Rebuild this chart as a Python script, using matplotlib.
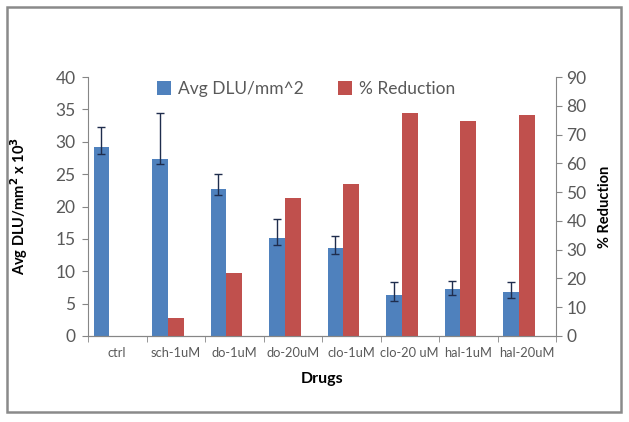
import numpy as np
import matplotlib
matplotlib.use("Agg")
from matplotlib import pyplot as plt
from matplotlib.patches import Rectangle

plt.rcParams['font.family'] = ['Lato', 'DejaVu Sans']

drugs = ["ctrl", "sch-1uM", "do-1uM", "do-20uM", "clo-1uM", "clo-20 uM", "hal-1uM", "hal-20uM"]
avg_dlu = [29.2, 27.3, 22.7, 15.1, 13.6, 6.4, 7.3, 6.8]
err_up = [3.1, 7.1, 2.3, 3.0, 1.8, 2.0, 1.2, 1.6]
err_low = [1.1, 0.8, 1.0, 1.0, 1.0, 1.0, 1.0, 1.0]
reduction = [0, 6.2, 21.8, 48.0, 52.7, 77.6, 74.8, 76.8]

blue = "#4F81BD"
red = "#C0504D"
grey = "#868686"
txt = "#595959"

fig = plt.figure(figsize=(6.29, 4.22), dpi=100)
fig.patches.append(Rectangle((7/629, 1-412/422), 614/629, 405/422, transform=fig.transFigure,
                             fill=False, edgecolor="#8a8a8a", linewidth=1.8))

ax = fig.add_axes([88/629, 1-336/422, 468/629, 259/422])
ax2 = ax.twinx()

x = np.arange(len(drugs))
w = 0.27
b1 = ax.bar(x - w, avg_dlu, w, color=blue, label="Avg DLU/mm^2", zorder=2)
ax.errorbar(x - w, avg_dlu, yerr=[err_low, err_up], fmt="none", ecolor="#1f2d4d",
            elinewidth=1.0, capsize=3, capthick=1.0, zorder=3)
b2 = ax2.bar(x, reduction, w, color=red, label="% Reduction", zorder=2)

ax.set_xlim(-0.5, len(drugs) - 0.5)
ax.set_ylim(0, 40)
ax2.set_ylim(0, 90)
ax.set_yticks(range(0, 41, 5))
ax2.set_yticks(range(0, 91, 10))

ax.set_xticks(x)
ax.set_xticklabels(drugs, fontsize=9.3, color=txt)
ax.set_xticks(np.arange(-0.5, len(drugs)), minor=True)
ax.tick_params(axis="x", which="major", length=0, pad=8)
ax.tick_params(axis="x", which="minor", length=4, color=grey, direction="out")
ax.tick_params(axis="y", labelsize=12.5, labelcolor=txt, color=grey, length=4, pad=5)
ax2.tick_params(axis="y", labelsize=12.5, labelcolor=txt, color=grey, length=4)

for a in (ax, ax2):
    a.spines["top"].set_visible(False)
    for s in ("left", "right", "bottom"):
        a.spines[s].set_color(grey)
ax.spines["right"].set_visible(False)
ax2.spines["left"].set_visible(False)

ax.set_ylabel("Avg DLU/mm$^\\mathbf{2}$ x 10$^\\mathbf{3}$", fontsize=10.5, fontweight="bold", labelpad=18)
ax2.set_ylabel("% Reduction", fontsize=10.5, fontweight="bold", labelpad=8)
ax.set_xlabel("Drugs", fontsize=11.5, fontweight="bold", labelpad=9)

fig.legend([b1, b2], ["Avg DLU/mm^2", "% Reduction"], loc="center", bbox_to_anchor=(306/629, 1-89/422),
           ncol=2, frameon=False, fontsize=12.5, handlelength=0.8, handleheight=0.8,
           handletextpad=0.4, columnspacing=2.0, labelcolor=txt)

fig.savefig("out.png", dpi=100)
